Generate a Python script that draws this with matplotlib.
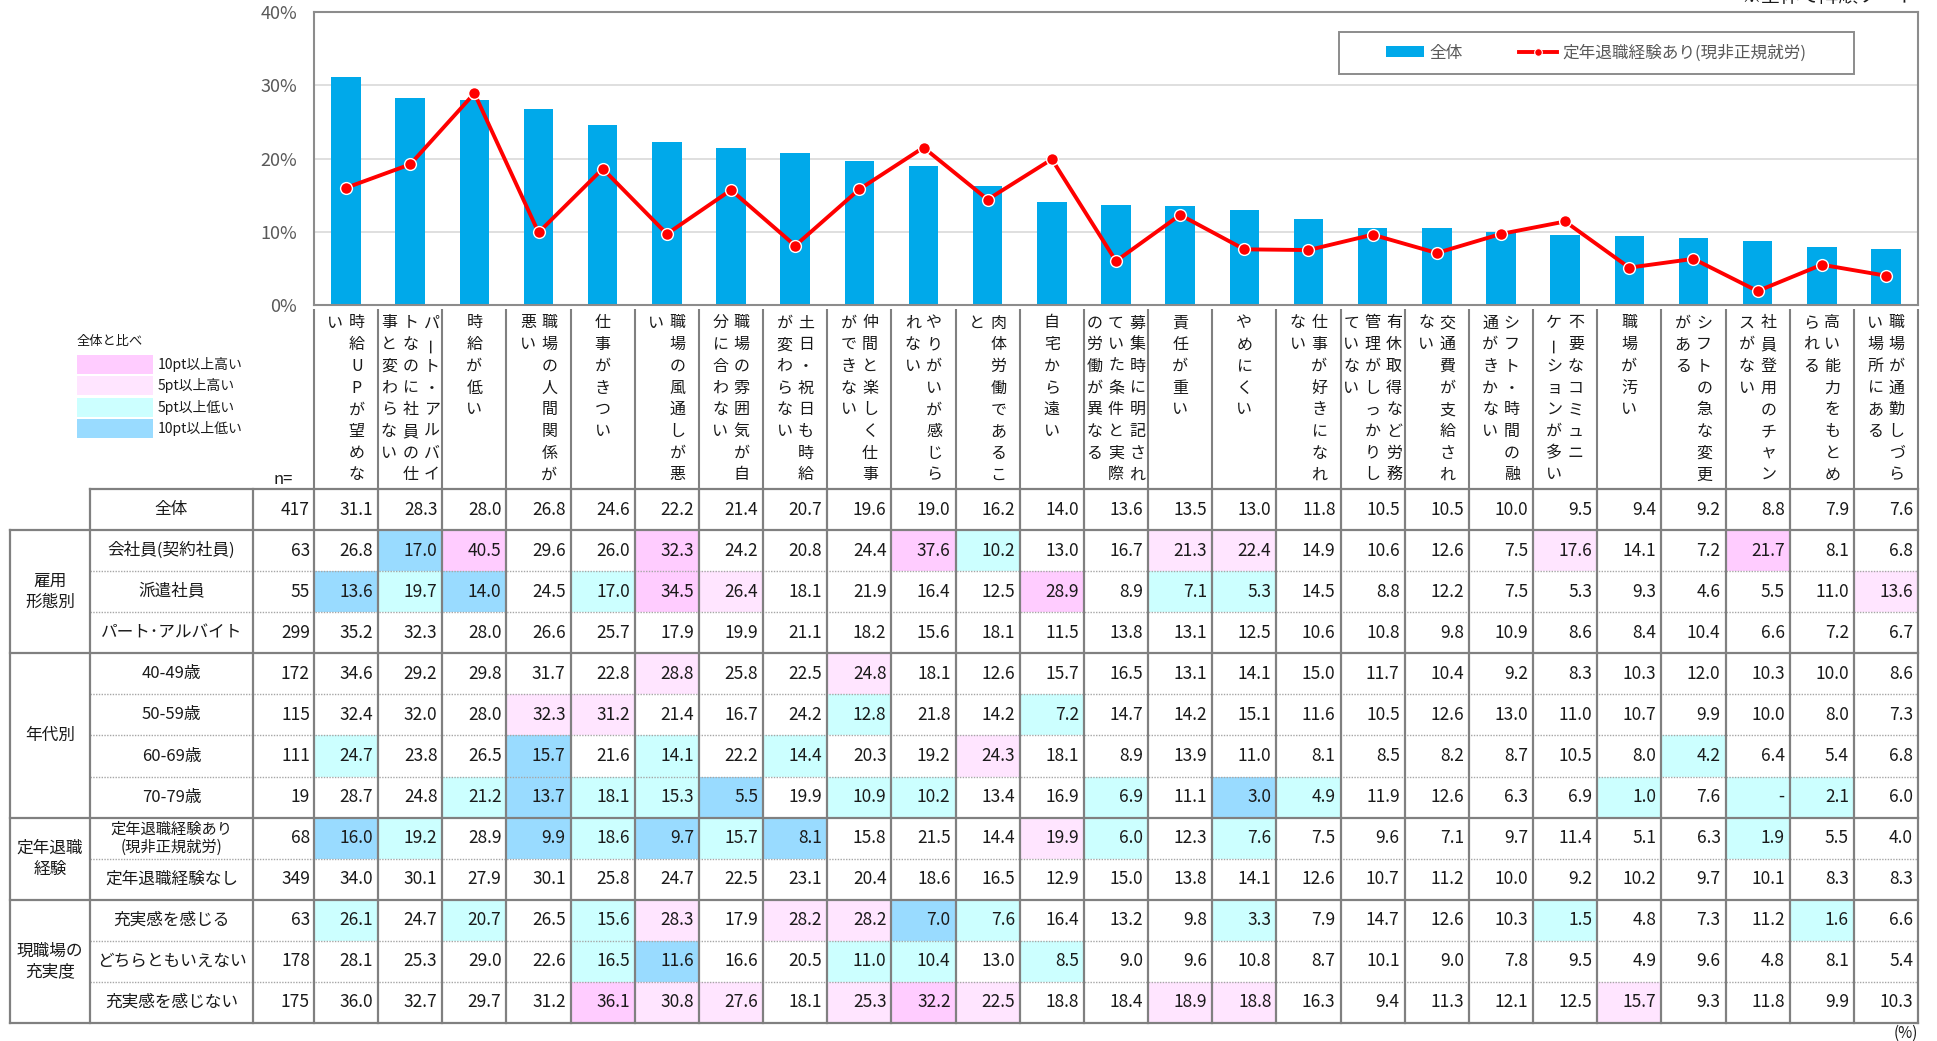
"""
離職理由（非正規就労者）: 棒グラフ＋折れ線と属性別クロス表
"""

import numpy as np
import matplotlib.pyplot as plt
import matplotlib.ticker as ticker
from matplotlib.patches import Rectangle, Patch
from matplotlib.lines import Line2D

plt.rcParams['font.family'] = ['Noto Sans CJK JP', 'DejaVu Sans']

# ── データ ─────────────────────────────────────────────────────────────────

categories = [
    "時給UPが望めない", "パート・アルバイトなのに社員の仕事と変わらない", "時給が低い",
    "職場の人間関係が悪い", "仕事がきつい", "職場の風通しが悪い",
    "職場の雰囲気が自分に合わない", "土日・祝日も時給が変わらない",
    "仲間と楽しく仕事ができない", "やりがいが感じられない", "肉体労働であること",
    "自宅から遠い", "募集時に明記されていた条件と実際の労働が異なる", "責任が重い",
    "やめにくい", "仕事が好きになれない", "有休取得など労務管理がしっかりしていない",
    "交通費が支給されない", "シフト・時間の融通がきかない",
    "不要なコミュニケーションが多い", "職場が汚い", "シフトの急な変更がある",
    "社員登用のチャンスがない", "高い能力をもとめられる", "職場が通勤しづらい場所にある",
]

total       = [31.1, 28.3, 28.0, 26.8, 24.6, 22.2, 21.4, 20.7, 19.6, 19.0, 16.2, 14.0, 13.6,
               13.5, 13.0, 11.8, 10.5, 10.5, 10.0, 9.5, 9.4, 9.2, 8.8, 7.9, 7.6]
kaisha      = [26.8, 17.0, 40.5, 29.6, 26.0, 32.3, 24.2, 20.8, 24.4, 37.6, 10.2, 13.0, 16.7,
               21.3, 22.4, 14.9, 10.6, 12.6, 7.5, 17.6, 14.1, 7.2, 21.7, 8.1, 6.8]
haken       = [13.6, 19.7, 14.0, 24.5, 17.0, 34.5, 26.4, 18.1, 21.9, 16.4, 12.5, 28.9, 8.9,
               7.1, 5.3, 14.5, 8.8, 12.2, 7.5, 5.3, 9.3, 4.6, 5.5, 11.0, 13.6]
part        = [35.2, 32.3, 28.0, 26.6, 25.7, 17.9, 19.9, 21.1, 18.2, 15.6, 18.1, 11.5, 13.8,
               13.1, 12.5, 10.6, 10.8, 9.8, 10.9, 8.6, 8.4, 10.4, 6.6, 7.2, 6.7]
age40       = [34.6, 29.2, 29.8, 31.7, 22.8, 28.8, 25.8, 22.5, 24.8, 18.1, 12.6, 15.7, 16.5,
               13.1, 14.1, 15.0, 11.7, 10.4, 9.2, 8.3, 10.3, 12.0, 10.3, 10.0, 8.6]
age50       = [32.4, 32.0, 28.0, 32.3, 31.2, 21.4, 16.7, 24.2, 12.8, 21.8, 14.2, 7.2, 14.7,
               14.2, 15.1, 11.6, 10.5, 12.6, 13.0, 11.0, 10.7, 9.9, 10.0, 8.0, 7.3]
age60       = [24.7, 23.8, 26.5, 15.7, 21.6, 14.1, 22.2, 14.4, 20.3, 19.2, 24.3, 18.1, 8.9,
               13.9, 11.0, 8.1, 8.5, 8.2, 8.7, 10.5, 8.0, 4.2, 6.4, 5.4, 6.8]
age70       = [28.7, 24.8, 21.2, 13.7, 18.1, 15.3, 5.5, 19.9, 10.9, 10.2, 13.4, 16.9, 6.9,
               11.1, 3.0, 4.9, 11.9, 12.6, 6.3, 6.9, 1.0, 7.6, None, 2.1, 6.0]
retired     = [16.0, 19.2, 28.9, 9.9, 18.6, 9.7, 15.7, 8.1, 15.8, 21.5, 14.4, 19.9, 6.0,
               12.3, 7.6, 7.5, 9.6, 7.1, 9.7, 11.4, 5.1, 6.3, 1.9, 5.5, 4.0]
not_retired = [34.0, 30.1, 27.9, 30.1, 25.8, 24.7, 22.5, 23.1, 20.4, 18.6, 16.5, 12.9, 15.0,
               13.8, 14.1, 12.6, 10.7, 11.2, 10.0, 9.2, 10.2, 9.7, 10.1, 8.3, 8.3]
fulfilled   = [26.1, 24.7, 20.7, 26.5, 15.6, 28.3, 17.9, 28.2, 28.2, 7.0, 7.6, 16.4, 13.2,
               9.8, 3.3, 7.9, 14.7, 12.6, 10.3, 1.5, 4.8, 7.3, 11.2, 1.6, 6.6]
neutral     = [28.1, 25.3, 29.0, 22.6, 16.5, 11.6, 16.6, 20.5, 11.0, 10.4, 13.0, 8.5, 9.0,
               9.6, 10.8, 8.7, 10.1, 9.0, 7.8, 9.5, 4.9, 9.6, 4.8, 8.1, 5.4]
unfulfilled = [36.0, 32.7, 29.7, 31.2, 36.1, 30.8, 27.6, 18.1, 25.3, 32.2, 22.5, 18.8, 18.4,
               18.9, 18.8, 16.3, 9.4, 11.3, 12.1, 12.5, 15.7, 9.3, 11.8, 9.9, 10.3]

row_labels = ["全体", "会社員(契約社員)", "派遣社員", "パート･アルバイト",
              "40-49歳", "50-59歳", "60-69歳", "70-79歳",
              "定年退職経験あり\n(現非正規就労)", "定年退職経験なし",
              "充実感を感じる", "どちらともいえない", "充実感を感じない"]
row_n = [417, 63, 55, 299, 172, 115, 111, 19, 68, 349, 63, 178, 175]
table_rows = [total, kaisha, haken, part, age40, age50, age60, age70,
              retired, not_retired, fulfilled, neutral, unfulfilled]

group_labels = ["雇用\n形態別", "年代別", "定年退職\n経験", "現職場の\n充実度"]
group_spans  = [(1, 4), (4, 8), (8, 10), (10, 13)]

shade_labels = ["10pt以上高い", "5pt以上高い", "5pt以上低い", "10pt以上低い"]

# ── レイアウト（ピクセル） ─────────────────────────────────────────────────

W, H = 1937, 1041
PLOT_L, PLOT_R, PLOT_T, PLOT_B = 314, 1918, 12, 305
NCOL = len(categories)
COL_W = (PLOT_R - PLOT_L) / NCOL
TAB_T, TAB_B = 489, 1023
ROW_H = (TAB_B - TAB_T) / len(row_labels)
GRP_L, LAB_L, N_L = 10, 90, 253

BAR_COL = "#00A9EA"
LINE_COL = "#FF0000"
BORDER = "#808080"
TXT = "#1A1A1A"
SHADES = ["#FFCCFF", "#FFE5FF", "#CCFFFF", "#99DBFF"]


def shade_for(v, base):
    v = 0.0 if v is None else v
    d = round(v - base, 1)
    if d >= 10:
        return SHADES[0]
    if d >= 5:
        return SHADES[1]
    if d <= -10:
        return SHADES[3]
    if d <= -5:
        return SHADES[2]
    return None


NO_START = "ーァィゥェォャュョッっゃゅょ"


def wrap_vertical(s, n=8):
    cols = []
    while s:
        k = n
        if len(s) > n and s[n] in NO_START:
            k = n - 1
        cols.append(s[:k])
        s = s[k:]
    return cols


fig = plt.figure(figsize=(W / 100, H / 100), dpi=100)

# ── グラフ部 ─────────────────────────────────────────────────────────────

ax = fig.add_axes([PLOT_L / W, 1 - PLOT_B / H, (PLOT_R - PLOT_L) / W, (PLOT_B - PLOT_T) / H])
x = np.arange(NCOL)
ax.bar(x, np.array(total) / 100, width=0.46, color=BAR_COL, zorder=2)
ax.plot(x, np.array(retired) / 100, color=LINE_COL, lw=2.8, marker="o", ms=8.5,
        mfc=LINE_COL, mec="white", mew=1, zorder=3)
ax.set_xlim(-0.5, NCOL - 0.5)
ax.set_ylim(0, 0.4)
ax.set_yticks([0, 0.1, 0.2, 0.3, 0.4])
ax.yaxis.set_major_formatter(ticker.PercentFormatter(1.0, decimals=0))
ax.grid(axis="y", color="#D9D9D9", lw=1.2)
ax.set_axisbelow(True)
ax.set_xticks([])
ax.tick_params(axis="y", length=0, labelsize=13, labelcolor="#595959", pad=12)
for s in ax.spines.values():
    s.set_color("#8C8C8C")
    s.set_linewidth(1.5)

# ── ピクセル座標のオーバーレイ（表・ラベル） ───────────────────────────

px = fig.add_axes([0, 0, 1, 1])
px.set_xlim(0, W)
px.set_ylim(H, 0)
px.axis("off")
px.patch.set_alpha(0)

# 凡例（グラフ内）
px.add_patch(Rectangle((1339, 32), 515, 42, facecolor="white", edgecolor="#8C8C8C",
                       lw=1.4, zorder=1))
handles = [Patch(facecolor=BAR_COL, edgecolor="none"),
           Line2D([], [], color=LINE_COL, lw=2.8, marker="o", ms=5.5, mfc=LINE_COL,
                  mec="white", mew=0.8)]
px.legend(handles, ["全体", "定年退職経験あり(現非正規就労)"], loc="center",
          bbox_to_anchor=(1596 / W, 1 - 53 / H), bbox_transform=fig.transFigure,
          ncol=2, frameon=False, fontsize=12, handlelength=2.3, handleheight=0.6,
          handletextpad=0.3, columnspacing=3.4, labelcolor="#595959")

fig.text(1917 / W, 1 - 7 / H, "※全体で降順ソート", ha="right", va="bottom",
         fontsize=14, color=TXT)

# カテゴリラベル（縦書き）
for i in range(NCOL + 1):
    xb = PLOT_L + i * COL_W
    px.plot([xb, xb], [309, TAB_T], color=BORDER, lw=1.5, solid_capstyle="butt")

CHAR_DX, CHAR_DY, LAB_Y0 = 21.4, 21.7, 323
for i, lab in enumerate(categories):
    cx = PLOT_L + (i + 0.5) * COL_W
    cols = wrap_vertical(lab)
    k = len(cols)
    for j, col in enumerate(cols):
        xj = cx + ((k - 1) / 2 - j) * CHAR_DX
        for m, ch in enumerate(col):
            px.text(xj, LAB_Y0 + m * CHAR_DY, ch, ha="center", va="center",
                    fontsize=11.5, color=TXT, rotation=90 if ch == "ー" else 0)

px.text(293, 480, "n=", ha="right", va="center", fontsize=12, color=TXT)

# 色分け凡例（左）
px.text(77, 342, "全体と比べ", ha="left", va="center", fontsize=9.5, color=TXT)
for k, (lab, col) in enumerate(zip(shade_labels, SHADES)):
    y0 = 355 + k * 21.3
    px.add_patch(Rectangle((77, y0), 76, 19, facecolor=col, edgecolor="none"))
    px.text(158, y0 + 9.5, lab, ha="left", va="center", fontsize=10, color=TXT)

# 表
for r, (lab, n, vals) in enumerate(zip(row_labels, row_n, table_rows)):
    y0 = TAB_T + r * ROW_H
    yc = y0 + ROW_H / 2
    two = "\n" in lab
    px.text((LAB_L + N_L) / 2, yc, lab, ha="center", va="center",
            fontsize=11 if two else 12, color=TXT, linespacing=1.05)
    px.text(PLOT_L - 4, yc, str(n), ha="right", va="center", fontsize=12.5, color=TXT)
    for c, v in enumerate(vals):
        x0 = PLOT_L + c * COL_W
        shade = shade_for(v, total[c]) if r > 0 else None
        if shade:
            px.add_patch(Rectangle((x0, y0), COL_W, ROW_H, facecolor=shade,
                                   edgecolor="none", zorder=0.5))
        txt = "-" if v is None else f"{v:.1f}"
        px.text(x0 + COL_W - 5, yc, txt, ha="right", va="center", fontsize=12.5, color=TXT)

for lab, (a, b) in zip(group_labels, group_spans):
    yc = TAB_T + (a + b) / 2 * ROW_H
    px.text((GRP_L + LAB_L) / 2, yc, lab, ha="center", va="center", fontsize=12,
            color=TXT, linespacing=1.3)

# 罫線
solid_rows = [0, 1, 4, 8, 10, 13]
for r in range(len(row_labels) + 1):
    y = TAB_T + r * ROW_H
    if r in solid_rows:
        xl = LAB_L if r == 0 else GRP_L
        px.plot([xl, PLOT_R], [y, y], color=BORDER, lw=1.6, solid_capstyle="projecting")
    else:
        px.plot([LAB_L, PLOT_R], [y, y], color="#A6A6A6", lw=1.0, ls=(0, (1, 1)))

px.plot([GRP_L, GRP_L], [TAB_T + ROW_H, TAB_B], color=BORDER, lw=1.6)
for xv in [LAB_L, N_L] + [PLOT_L + i * COL_W for i in range(NCOL + 1)]:
    px.plot([xv, xv], [TAB_T, TAB_B], color=BORDER, lw=1.6)

px.text(1918, 1033, "(%)", ha="right", va="center", fontsize=11, color=TXT)

fig.savefig("out.png", dpi=100)
